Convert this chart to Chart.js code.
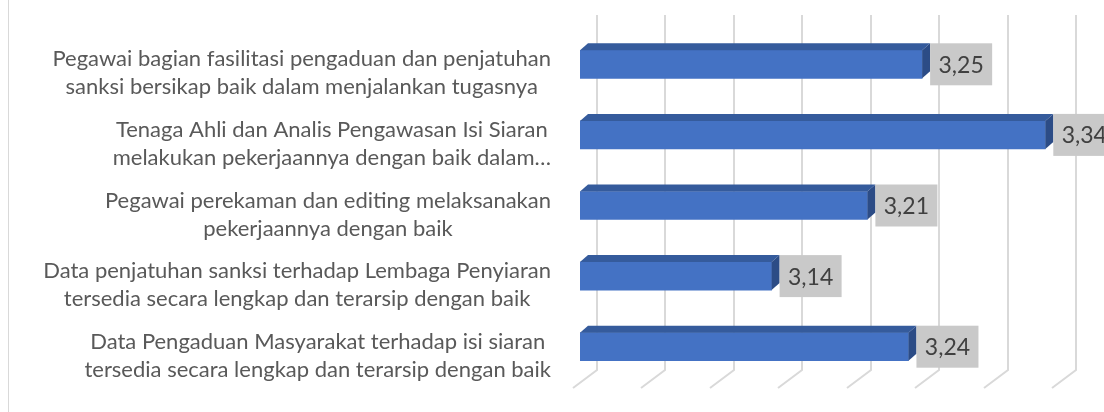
<!DOCTYPE html>
<html>
<head>
<meta charset="utf-8">
<script src="https://cdn.jsdelivr.net/npm/chart.js@4.4.1/dist/chart.umd.min.js"></script>
<style>
  body { margin: 0; background: #fff; }
  canvas { display: block; }
</style>
</head>
<body>
<canvas id="grafik" width="1104" height="412"></canvas>
<script>
// kategori (atas ke bawah), tiap label dua baris
const kategori = [
    ['Pegawai bagian fasilitasi pengaduan dan penjatuhan', 'sanksi bersikap baik dalam menjalankan tugasnya'],
    ['Tenaga Ahli dan Analis Pengawasan Isi Siaran', 'melakukan pekerjaannya dengan baik dalam…'],
    ['Pegawai perekaman dan editing melaksanakan', 'pekerjaannya dengan baik'],
    ['Data penjatuhan sanksi terhadap Lembaga Penyiaran', 'tersedia secara lengkap dan terarsip dengan baik'],
    ['Data Pengaduan Masyarakat terhadap isi siaran', 'tersedia secara lengkap dan terarsip dengan baik']
];
const nilai = [3.25, 3.34, 3.21, 3.14, 3.24];
// garis grid sumbu nilai
const gridNilai = [3.0, 3.05, 3.1, 3.15, 3.2, 3.25, 3.3, 3.35];

const canvas = document.getElementById('grafik');
const fontLabel = '22px Lato, "Open Sans", sans-serif';
const fontNilai = '23px Lato, "Open Sans", sans-serif';
const kedalaman = { dx: 8, dy: 7 };   // efek 3D batang

const formatNilai = (v) => v.toFixed(2).replace('.', ',');

// grid vertikal di dinding belakang + garis lantai miring
const pluginGrid = {
    id: 'gridBelakang',
    beforeDatasetsDraw(chart) {
        const { ctx, chartArea } = chart;
        const xs = chart.scales.x;
        ctx.save();
        // bingkai kiri
        ctx.strokeStyle = '#D9D9D9';
        ctx.lineWidth = 1;
        ctx.beginPath();
        ctx.moveTo(8.5, 0);
        ctx.lineTo(8.5, 412);
        ctx.stroke();

        ctx.lineWidth = 2;
        ctx.strokeStyle = '#D9D9D9';
        gridNilai.forEach(v => {
            const gx = Math.round(xs.getPixelForValue(v)) + 17;
            ctx.beginPath();
            ctx.moveTo(gx, chartArea.top - 14);
            ctx.lineTo(gx, chartArea.bottom - 12);
            ctx.lineTo(gx - 24, chartArea.bottom + 6);
            ctx.stroke();
        });
        ctx.restore();
    }
};

// sisi atas & samping batang, lalu label nilai
const pluginBatang3D = {
    id: 'batang3D',
    afterDatasetsDraw(chart) {
        const { ctx, chartArea } = chart;
        const meta = chart.getDatasetMeta(0);
        const { dx, dy } = kedalaman;
        ctx.save();
        meta.data.forEach((bar, i) => {
            const x0 = Math.max(bar.base, chartArea.left);
            const x1 = bar.x;
            const atas = bar.y - bar.height / 2;
            const bawah = bar.y + bar.height / 2;

            // sisi atas
            ctx.fillStyle = '#355B9C';
            ctx.beginPath();
            ctx.moveTo(x0, atas);
            ctx.lineTo(x0 + dx, atas - dy);
            ctx.lineTo(x1 + dx, atas - dy);
            ctx.lineTo(x1, atas);
            ctx.closePath();
            ctx.fill();

            // sisi kanan
            ctx.fillStyle = '#2C4C86';
            ctx.beginPath();
            ctx.moveTo(x1, atas);
            ctx.lineTo(x1 + dx, atas - dy);
            ctx.lineTo(x1 + dx, bawah - dy);
            ctx.lineTo(x1, bawah);
            ctx.closePath();
            ctx.fill();

            // kotak label nilai
            const bx = x1 + dx;
            const by = atas - dy;
            const bw = 62, bh = bawah - atas + 2 * dy;
            ctx.fillStyle = '#C9C9C9';
            ctx.fillRect(bx, by, bw, bh);
            ctx.fillStyle = '#404040';
            ctx.font = fontNilai;
            ctx.textAlign = 'center';
            ctx.textBaseline = 'middle';
            ctx.fillText(formatNilai(nilai[i]), bx + bw / 2, by + bh / 2 + 1);
        });
        ctx.restore();
    },
    afterDraw(chart) {
        // label kategori: blok rata kanan, tiap baris di tengah blok
        const { ctx } = chart;
        const ys = chart.scales.y;
        ctx.save();
        ctx.font = fontLabel;
        ctx.fillStyle = '#595959';
        ctx.textAlign = 'center';
        ctx.textBaseline = 'middle';
        kategori.forEach((baris, i) => {
            const cy = ys.getPixelForValue(i) + 9;
            const lebar = Math.max(...baris.map(b => ctx.measureText(b).width));
            const cx = 551 - lebar / 2;
            baris.forEach((b, j) => {
                ctx.fillText(b, cx, cy + (j - (baris.length - 1) / 2) * 28);
            });
        });
        ctx.restore();
    }
};

new Chart(canvas, {
    type: 'bar',
    data: {
        labels: kategori,
        datasets: [{
            data: nilai,
            backgroundColor: '#4472C4',
            borderWidth: 0,
            barThickness: 28
        }]
    },
    options: {
        indexAxis: 'y',
        responsive: false,
        animation: false,
        layout: { padding: { left: 580, right: 45, top: 29, bottom: 30 } },
        scales: {
            x: { display: false, min: 3.0, max: 3.35 },
            y: { display: false }
        },
        plugins: {
            legend: { display: false },
            tooltip: { enabled: false }
        }
    },
    plugins: [pluginGrid, pluginBatang3D]
});
</script>
</body>
</html>
